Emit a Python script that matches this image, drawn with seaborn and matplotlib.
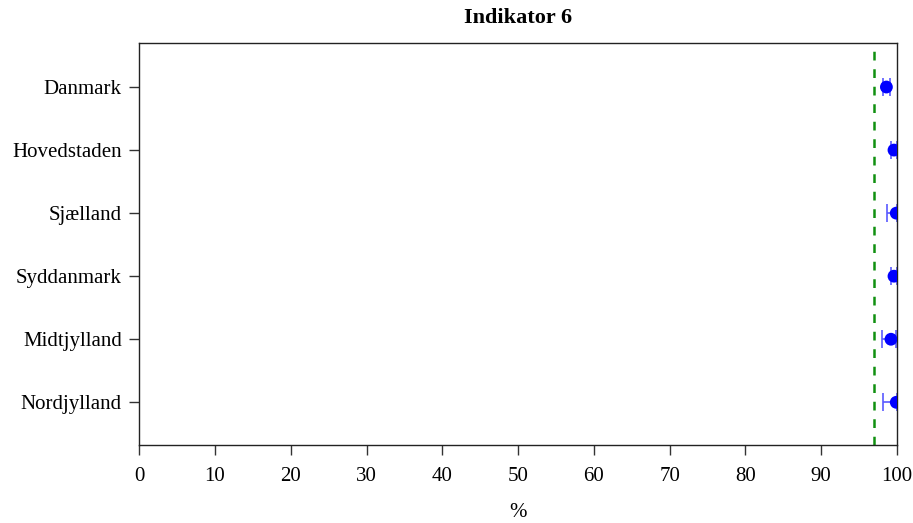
import matplotlib
matplotlib.use("Agg")
import matplotlib.pyplot as plt
import seaborn as sns
import pandas as pd
import numpy as np

# Regional estimates with confidence limits (%)
regions = ["Danmark", "Hovedstaden", "Sjælland", "Syddanmark", "Midtjylland", "Nordjylland"]
estimate = [98.6, 99.6, 99.9, 99.6, 99.2, 99.9]
lower = [98.1, 99.2, 98.7, 99.2, 98.0, 98.2]
upper = [99.1, 100.0, 100.0, 100.0, 99.9, 100.0]
standard = 97.0
xticks = [0, 10, 20, 30, 40, 50, 60, 70, 80, 90, 100]

df = pd.DataFrame({"region": regions, "estimate": estimate,
                   "lower": lower, "upper": upper})

sns.set_theme(style="white")
plt.rcParams["font.family"] = ["Liberation Serif", "DejaVu Serif"]

fig = plt.figure(figsize=(9.13, 5.23), dpi=100)
ax = fig.add_axes([0.1525, 0.150, 0.830, 0.768])

pos = np.arange(len(regions))
ax.errorbar(df["estimate"], pos,
            xerr=[df["estimate"] - df["lower"], df["upper"] - df["estimate"]],
            fmt="none", ecolor="#5a5aff", elinewidth=1.2, capsize=6.5, capthick=1.2,
            zorder=2)
sns.scatterplot(data=df, x="estimate", y="region", ax=ax, color="#0000ff",
                s=85, edgecolor="none", zorder=3, legend=False)

ax.axvline(standard, color="#109010", linestyle=(0, (3.5, 3.5)), linewidth=1.8, zorder=1)

ax.set_xlim(0, 100)
ax.set_ylim(len(regions) - 1 + 0.67, -0.7)
ax.set_xticks(xticks)
ax.set_xticklabels([str(t) for t in xticks])
ax.set_yticks(pos)
ax.set_yticklabels(regions)

ax.tick_params(axis="both", which="both", direction="out", length=7.5, width=1,
               color="#333333", labelsize=15, labelcolor="black",
               bottom=True, left=True, top=False, right=False)
ax.tick_params(axis="x", pad=9)
ax.tick_params(axis="y", pad=5)
for side in ax.spines.values():
    side.set_color("#222222")
    side.set_linewidth(1)
    side.set_visible(True)

ax.set_ylabel("")
ax.set_xlabel("%", fontsize=15, labelpad=12, color="black")
ax.set_title("Indikator 6", fontsize=16, fontweight="bold", pad=14, color="black")

fig.savefig("out.png", dpi=100)
